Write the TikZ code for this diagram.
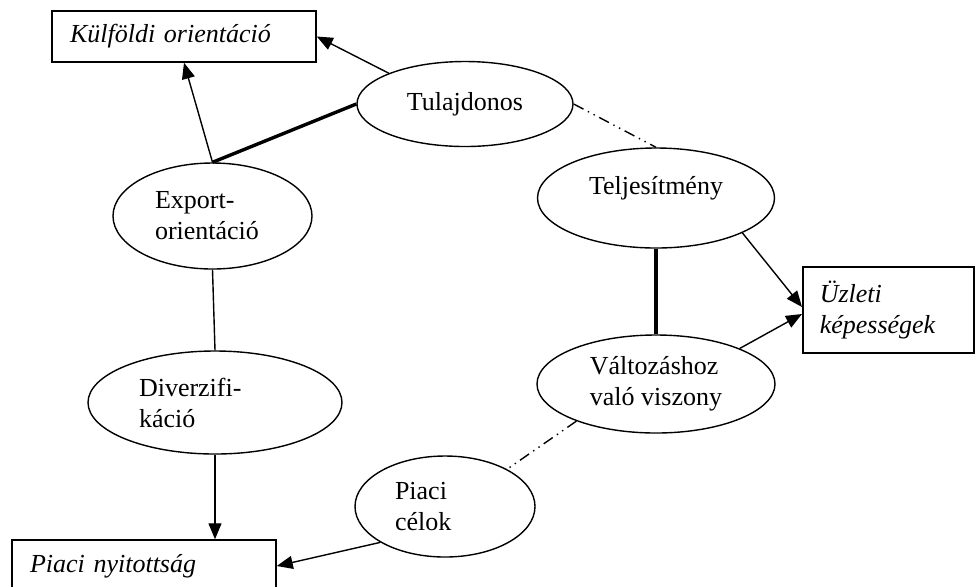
\documentclass[tikz,border=0pt]{standalone}
\usepackage{fontspec}
\setmainfont{Liberation Serif}
\usetikzlibrary{arrows.meta, positioning, shapes.geometric}

\begin{document}
\begin{tikzpicture}[
    x=0.5pt, y=-0.5pt,
    every node/.style={font=\fontsize{13}{15.5}\selectfont},
    ovalNode/.style={draw, ellipse, line width=0.7pt, inner sep=0pt, align=left},
    textBox/.style={draw, rectangle, line width=0.75pt, inner xsep=9pt, inner ysep=0pt, align=left, font=\fontsize{13}{15.5}\selectfont\itshape},
    arrow/.style={draw, line width=0.7pt, -{Triangle[length=8pt, width=6.5pt]}},
    thinLink/.style={draw, line width=0.7pt},
    thickLink/.style={draw, line width=1.7pt},
    dashLink/.style={draw, line width=0.7pt, dash pattern=on 5.5pt off 2.5pt on 0.7pt off 2.5pt on 0.7pt off 2.5pt}
]
\useasboundingbox (0,0) rectangle (975,586);

% Outcome boxes
\node[textBox, minimum width=132pt, minimum height=25.5pt, text width=114pt] (kulfOr) at (184,36.5) {Külföldi orientáció};
\node[textBox, minimum width=132pt, minimum height=26pt, text width=114pt] (piaciNy) at (144,566) {Piaci nyitottság};
\node[textBox, inner xsep=8.5pt, minimum width=85.5pt, minimum height=43pt, text width=68.5pt] (uzletiK) at (888.25,310) {Üzleti\\képességek};

% Factors
\node[ovalNode, minimum width=108pt, minimum height=42.5pt] (tulaj) at (465,104) {Tulajdonos};
\node[ovalNode, minimum width=118.5pt, minimum height=50pt, text height=9pt, text depth=13pt] (teljes) at (656,198) {Teljesítmény};
\node[ovalNode, minimum width=99.5pt, minimum height=53pt, text width=57.5pt] (exportOr) at (212.5,216) {Export-\\orientáció};
\node[ovalNode, minimum width=127pt, minimum height=51.5pt, text width=76pt] (diverz) at (215,402.5) {Diverzifi-\\káció};
\node[ovalNode, minimum width=119pt, minimum height=49pt] (valtozas) at (656,384) {Változáshoz\\való viszony};
\node[ovalNode, minimum width=90pt, minimum height=50.5pt, text width=50pt] (piaciC) at (445,506.5) {Piaci\\célok};

% Links
\draw[arrow] (tulaj.158) -- (kulfOr.east);
\draw[arrow] (exportOr.north) -- (kulfOr.south);
\draw[thickLink] (exportOr.north) -- (tulaj.west);
\draw[dashLink] (tulaj.east) -- (teljes.north);
\draw[thickLink] (teljes.south) -- (valtozas.north);
\draw[arrow] (teljes.-22) -- ([yshift=1.5pt]uzletiK.west);
\draw[arrow] (valtozas.23) -- ([yshift=-2pt]uzletiK.west);
\draw[thinLink] (exportOr.south) -- (diverz.north);
\draw[arrow] (diverz.south) -- (diverz.south |- piaciNy.north);
\draw[arrow] (piaciC.209) -- (piaciNy.east);
\draw[dashLink] (valtozas.205) -- (piaciC.31);

\end{tikzpicture}
\end{document}
